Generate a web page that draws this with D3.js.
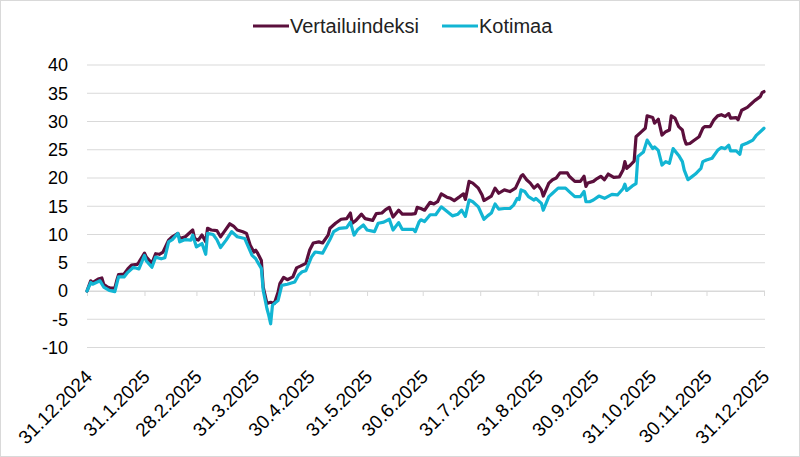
<!DOCTYPE html>
<html>
<head>
<meta charset="utf-8">
<script src="https://cdn.jsdelivr.net/npm/d3@7"></script>
<style>
  body { margin: 0; background: #fff; }
  svg { font-family: "Liberation Sans", Arial, sans-serif; display: block; }
</style>
</head>
<body>
<svg id="chart"></svg>
<script>
// month-end tick labels
const tickLabels = ["31.12.2024", "31.1.2025", "28.2.2025", "31.3.2025", "30.4.2025", "31.5.2025",
  "30.6.2025", "31.7.2025", "31.8.2025", "30.9.2025", "31.10.2025", "30.11.2025", "31.12.2025"];
const yTicks = [-10, -5, 0, 5, 10, 15, 20, 25, 30, 35, 40];
const seriesNames = ["Vertailuindeksi", "Kotimaa"];

// days since 31.12.2024, cumulative return %
const vertDays = [0,2,3,6,8,9,11,13,15,16,17,20,22,24,27,28,31,32,35,37,39,41,44,46,49,50,53,57,58,60,
  62,64,65,67,70,72,74,77,79,81,84,86,88,90,91,92,94,95,97,99,101,103,104,106,108,111,113,115,118,120,
  122,125,127,130,131,134,137,140,142,143,145,148,150,154,156,159,161,163,165,168,170,175,177,178,180,182,185,187,189,191,
  194,196,198,201,203,204,206,208,211,213,214,216,218,220,222,225,228,231,234,235,237,239,241,243,245,246,249,251,253,255,
  259,260,263,266,268,269,270,273,275,277,279,281,284,287,289,290,291,293,295,296,299,301,302,305,306,308,310,312,314,315,
  317,319,321,322,323,325,327,330,332,333,336,338,340,342,344,346,347,350,351,353,356,358,360,363,364,365];
const vertValues = [0,1.8,1.5,2.1,2.3,1.2,0.7,0.5,0.5,1.8,2.9,3.0,3.9,4.6,4.7,5.1,6.7,6.0,4.9,6.6,
  6.5,6.9,9.0,9.6,10.2,9.3,9.6,10.8,9.3,9.0,9.9,8.7,11.1,10.8,10.7,9.6,10.5,11.9,11.5,10.8,
  10.5,10.2,8.1,6.9,7.2,6.7,5.4,0.7,-2.2,-2.0,-2.2,-0.2,1.3,2.4,2.0,2.5,4.1,4.4,4.9,7.2,
  8.5,8.7,8.5,9.9,11.1,12.0,12.7,12.8,13.8,12.0,12.5,13.6,12.8,12.5,13.7,13.8,14.4,14.8,13.1,14.3,
  13.6,13.6,13.7,14.8,14.6,14.3,15.7,15.4,15.8,17.2,16.6,16.4,16.0,16.7,17.2,16.2,19.4,19.1,18.2,17.0,
  16.0,16.4,16.8,18.2,17.3,17.9,17.6,18.2,20.3,20.6,19.7,19.1,18.2,18.8,17.9,16.8,19.1,19.7,20.0,20.9,
  20.9,20.3,19.4,19.4,20.3,18.5,19.1,19.4,19.9,20.3,19.7,20.7,20.1,20.2,21.4,22.9,21.7,22.3,23.0,27.3,
  28.2,28.8,31.0,30.7,29.7,30.4,27.6,28.2,28.5,31.0,30.6,29.1,28.5,27.0,26.0,26.1,26.6,27.3,28.8,29.1,
  29.1,30.3,31.0,31.2,30.9,31.4,30.6,30.7,30.3,32.0,32.5,33.1,33.7,34.4,35.1,35.3];

const kotiDays = [0,2,3,7,9,12,15,17,20,22,25,28,31,32,35,37,40,42,44,46,49,50,53,56,57,59,62,64,65,68,
  70,72,75,78,81,85,87,89,91,92,94,95,97,98,99,100,103,105,108,112,114,116,118,121,123,127,131,133,136,140,
  142,144,146,149,151,155,157,160,163,165,168,170,176,177,179,180,182,185,188,191,194,197,200,202,204,206,208,211,214,216,
  218,220,222,225,228,230,232,233,234,236,238,241,242,245,246,249,251,254,258,260,263,266,268,269,271,273,276,279,283,286,
  289,290,291,294,296,297,300,302,305,306,308,310,312,314,316,319,321,322,324,326,328,331,332,334,337,340,342,344,346,347,
  350,352,353,356,359,361,364,365];
const kotiValues = [0,1.5,1.2,1.8,0.7,0.1,-0.1,2.5,2.5,3.3,4.2,3.9,6.3,5.3,4.2,6.0,5.7,5.9,8.7,9.1,
  10.2,8.7,9.1,9.0,9.9,7.8,8.4,6.5,10.2,10.0,9.1,7.7,9.0,10.5,9.6,9.3,7.8,6.3,5.7,5.1,
  4.0,0.1,-3.1,-4.3,-5.8,-2.5,-1.7,1.0,1.2,1.6,2.8,3.4,3.6,6.0,6.9,6.7,9.1,10.5,11.1,11.2,
  12.2,9.9,10.9,11.7,10.8,10.5,12.0,12.2,12.7,10.8,12.1,10.9,10.9,10.5,12.2,12.6,12.3,13.5,13.5,14.9,
  14.1,13.3,13.6,14.3,13.2,16.1,15.8,14.9,12.7,13.3,13.8,15.4,14.5,14.6,14.6,15.2,16.4,16.2,17.9,17.6,
  16.7,16.1,16.4,15.5,14.3,16.7,17.3,18.2,18.2,17.6,16.7,16.7,17.6,15.8,15.8,16.1,16.8,16.4,17.1,17.0,
  18.1,18.9,17.8,18.6,19.0,23.8,24.6,26.7,25.2,25.5,24.9,22.3,22.9,22.6,25.2,24.0,22.9,21.4,19.7,20.2,
  20.7,21.7,22.9,23.2,23.5,24.9,25.4,25.2,25.8,24.8,24.8,24.2,25.8,26.2,26.7,27.6,28.5,28.8];

const colors = ["#5b0f3c", "#12b5d3"];

const W = 800, H = 457;
const svg = d3.select("#chart").attr("width", W).attr("height", H);

svg.append("rect")
  .attr("x", 0.5).attr("y", 0.5)
  .attr("width", W - 1).attr("height", H - 1)
  .attr("fill", "#fff")
  .attr("stroke", "#d9d9d9");

const parse = d3.timeParse("%d.%m.%Y");
const tickDates = tickLabels.map(parse);
const start = tickDates[0];

const x = d3.scaleTime()
  .domain([start, tickDates[tickDates.length - 1]])
  .range([87, 764]);

const y = d3.scaleLinear()
  .domain([-10, 40])
  .range([347.5, 65]);

// gridlines
svg.append("g")
  .selectAll("line")
  .data(yTicks)
  .join("line")
  .attr("x1", 87).attr("x2", 765)
  .attr("y1", d => y(d)).attr("y2", d => y(d))
  .attr("stroke", "#d9d9d9")
  .attr("stroke-width", 1);

// y labels
svg.append("g")
  .selectAll("text")
  .data(yTicks)
  .join("text")
  .attr("x", 68)
  .attr("y", d => y(d))
  .attr("dy", "0.35em")
  .attr("text-anchor", "end")
  .attr("font-size", 18)
  .attr("fill", "#000")
  .text(d => d);

// x axis on the zero line
const xAxis = d3.axisBottom(x)
  .tickValues(tickDates)
  .tickSize(5)
  .tickSizeOuter(0)
  .tickFormat((d, i) => tickLabels[i]);

const gx = svg.append("g")
  .attr("transform", `translate(0, ${y(0)})`)
  .call(xAxis);
gx.select(".domain").attr("stroke", "#d9d9d9");
gx.selectAll(".tick line").attr("stroke", "#d9d9d9");
gx.selectAll(".tick text")
  .attr("font-family", "Liberation Sans, Arial, sans-serif")
  .attr("font-size", 19)
  .attr("fill", "#000")
  .attr("text-anchor", "end")
  .attr("dy", null)
  .attr("y", null)
  .attr("transform", `translate(6, ${378 - y(0)}) rotate(-45)`);

// lines
const line = d3.line()
  .x(d => x(d3.timeDay.offset(start, d[0])))
  .y(d => y(d[1]));

const series = [
  d3.zip(vertDays, vertValues),
  d3.zip(kotiDays, kotiValues)
];

series.forEach((s, i) => {
  svg.append("path")
    .datum(s)
    .attr("fill", "none")
    .attr("stroke", colors[i])
    .attr("stroke-width", 3.2)
    .attr("stroke-linejoin", "round")
    .attr("stroke-linecap", "round")
    .attr("d", line);
});

// legend
const legendX = [253, 442];
const leg = svg.append("g");
seriesNames.forEach((name, i) => {
  leg.append("line")
    .attr("x1", legendX[i]).attr("x2", legendX[i] + 36)
    .attr("y1", 26).attr("y2", 26)
    .attr("stroke", colors[i])
    .attr("stroke-width", 3);
  leg.append("text")
    .attr("x", legendX[i] + 37)
    .attr("y", 26)
    .attr("dy", "0.35em")
    .attr("font-size", 20)
    .attr("fill", "#222")
    .text(name);
});
</script>
</body>
</html>
